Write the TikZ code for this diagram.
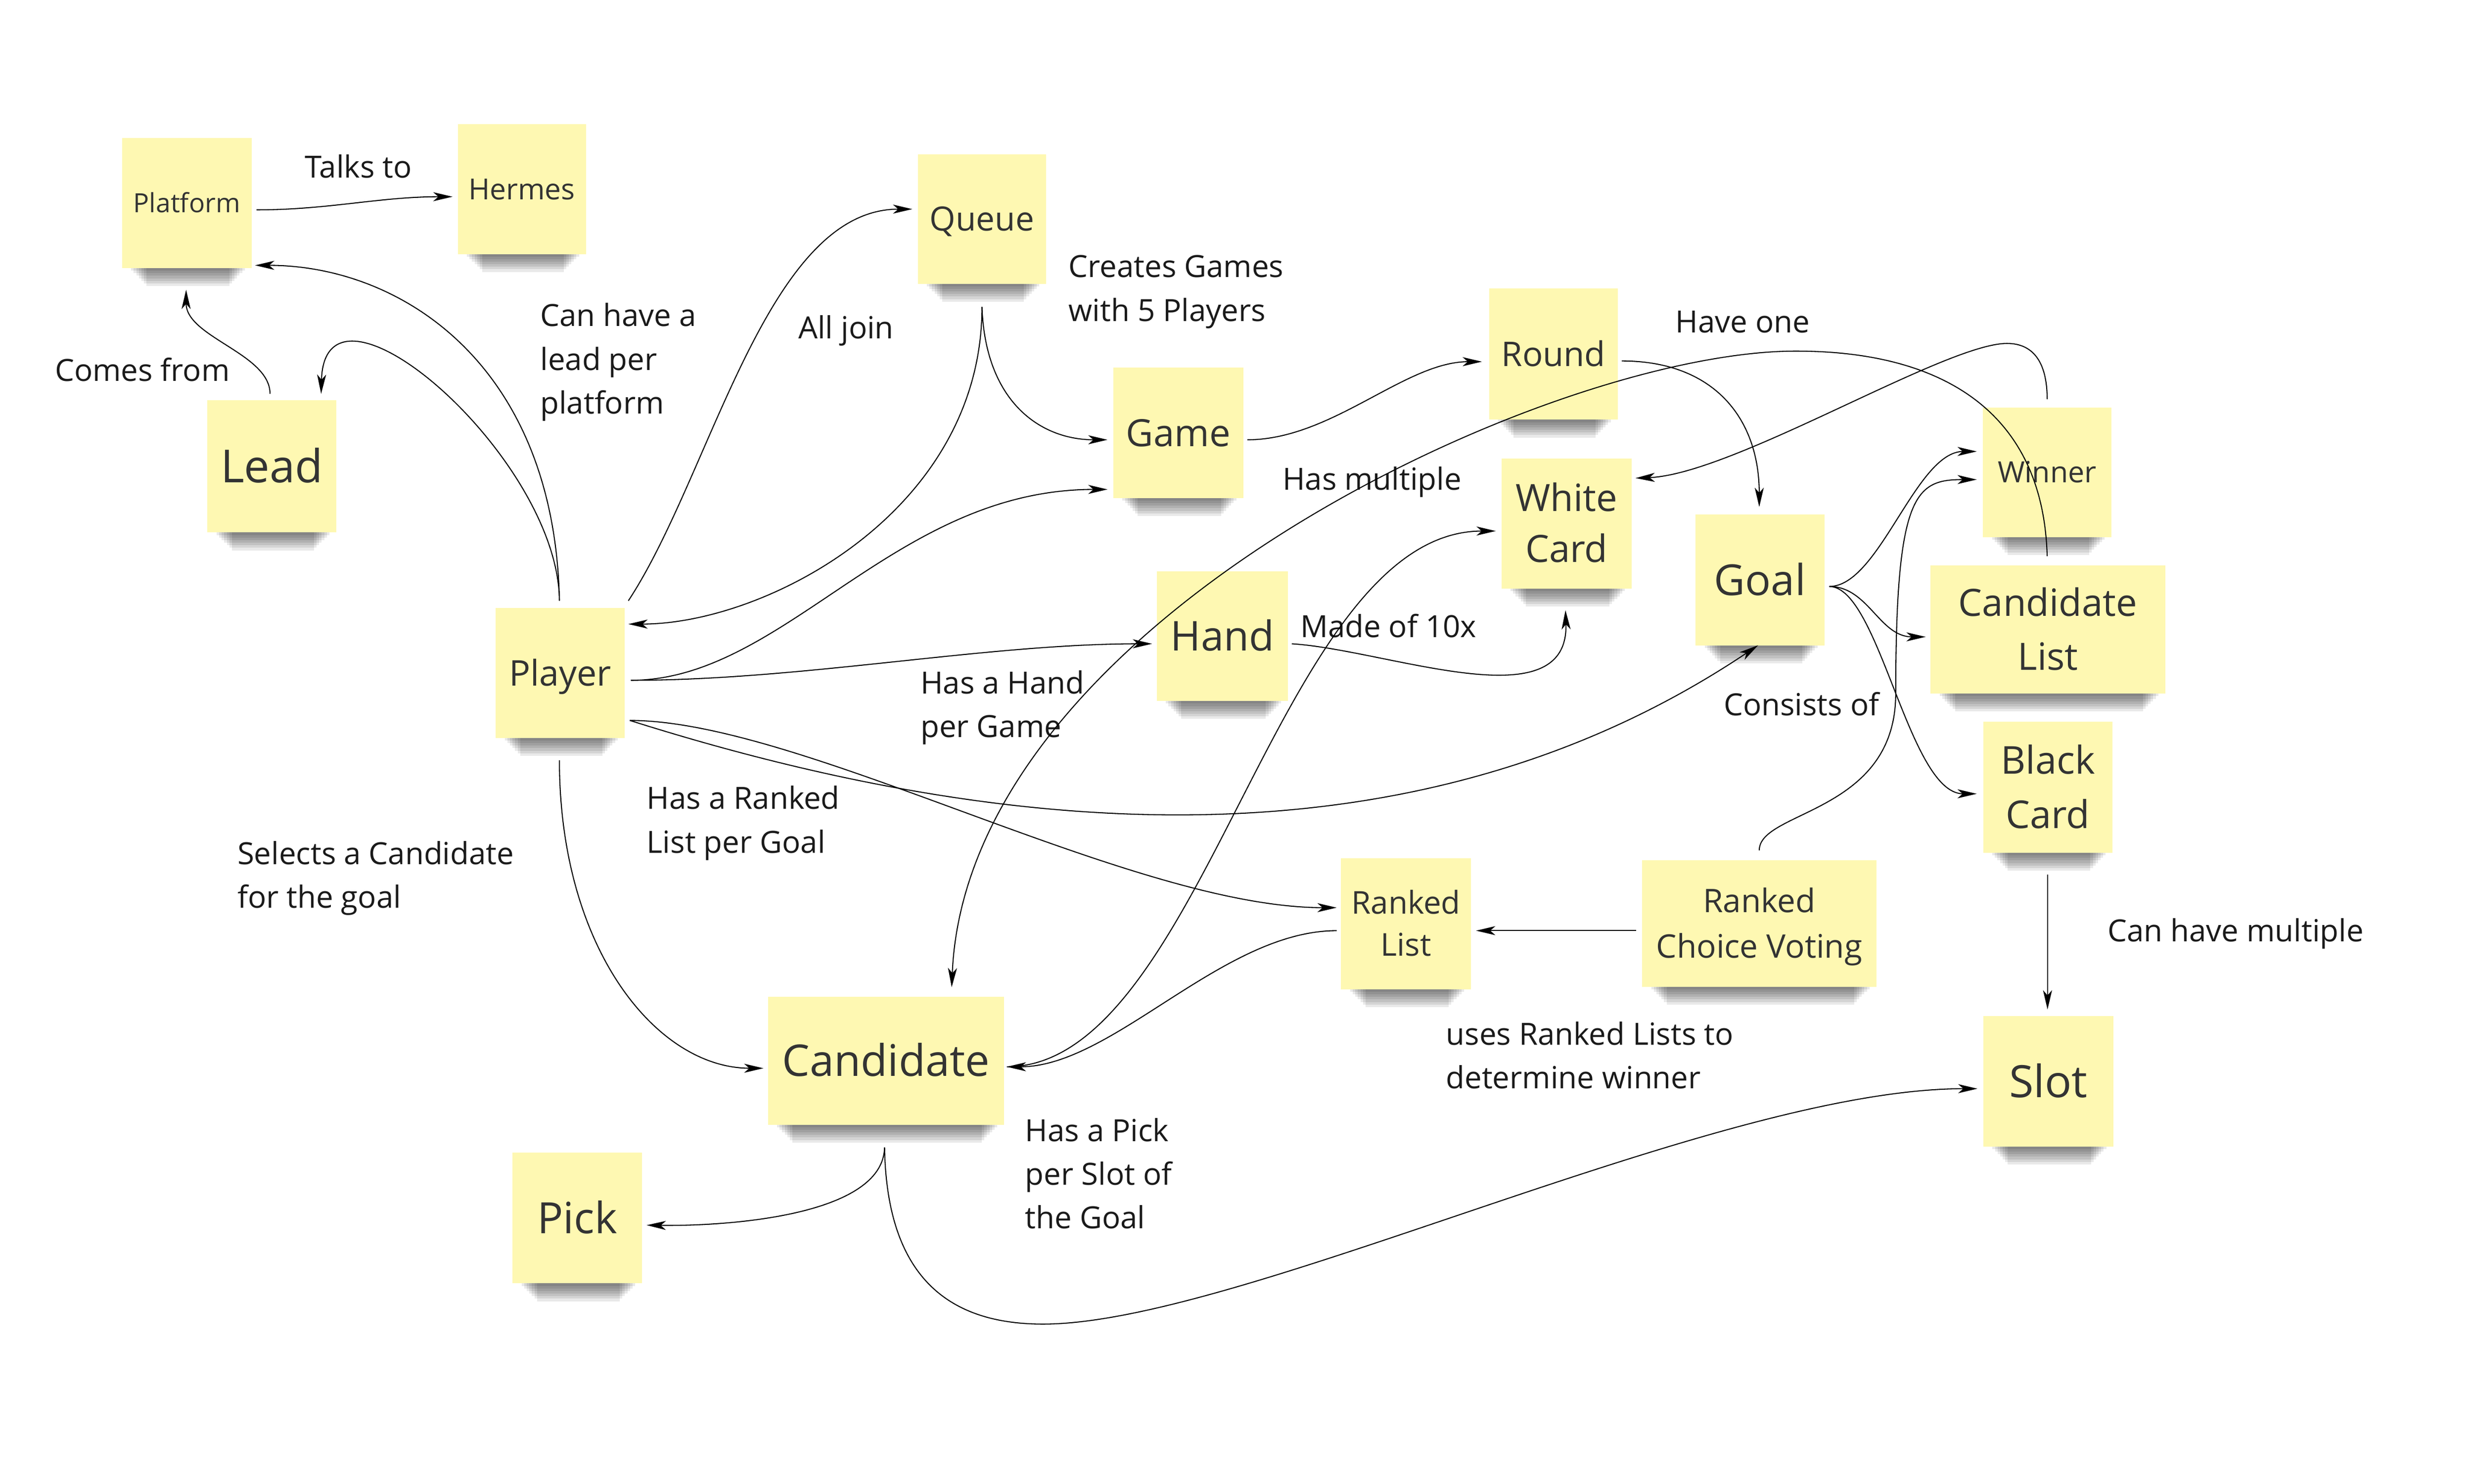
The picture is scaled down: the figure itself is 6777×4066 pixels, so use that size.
\documentclass[tikz,border=0pt]{standalone}
\usepackage{fontspec}
\setmainfont{Open Sans}
\usetikzlibrary{arrows.meta,calc}
\definecolor{notefill}{HTML}{FEF8B2}
\definecolor{notetext}{HTML}{333333}
\definecolor{labeltext}{HTML}{1A1A1A}
\newcommand{\topstrut}{\rule{0pt}{\dimexpr0.7\baselineskip+4.4pt\relax}}
% name, cx, cy, w, h, font size (pt), leading (pt), text, extra options
\newcommand{\stickynote}[9]{%
  \foreach \sk in {1,...,7}{%
    \fill[black, opacity=0.085] ({#2-#4/2+18+\sk*7},{#3+#5/2-4}) rectangle ({#2+#4/2-12-\sk*7},{#3+#5/2+\sk*7});
  }
  \node[sticky, minimum width=#4*0.01cm, minimum height=#5*0.01cm,
        font=\fontsize{#6}{#7}\selectfont, #9] (#1) at (#2,#3) {#8};
}
\tikzset{
  sticky/.style={fill=notefill, draw=none, inner sep=0pt, align=center, text=notetext},
  lbl/.style={anchor=west, inner sep=0pt, align=left, text=labeltext,
              font=\fontsize{23.8}{34}\selectfont},
  conn/.style={line width=0.8pt, draw=black,
               -{Stealth[length=15pt,width=7pt,inset=4pt]}}
}
\begin{document}
\begin{tikzpicture}[x=0.01cm, y=-0.01cm]
\useasboundingbox (0,0) rectangle (6777,4066);
\fill[white] (0,0) rectangle (6777,4066);

% sticky notes
\stickynote{platform}{512}{556}{355}{357}{20.6}{25}{Platform}{text height=14.7pt, text depth=0pt}
\stickynote{hermes}{1430}{518}{351}{356}{22.6}{27}{Hermes}{text height=16.1pt, text depth=0pt}
\stickynote{lead}{745}{1278}{353}{362}{35.5}{42}{Lead}{text height=25.3pt, text depth=0pt}
\stickynote{queue}{2691}{600}{352}{355}{26}{31}{Queue}{text height=18.6pt, text depth=0pt}
\stickynote{game}{3229}{1186}{356}{357}{29.3}{35}{Game}{text height=20.9pt, text depth=0pt}
\stickynote{round}{4257}{970}{352}{360}{26.5}{32}{Round}{text height=18.9pt, text depth=0pt}
\stickynote{white}{4293}{1435}{357}{356}{29.3}{39.8}{\topstrut White\\Card\strut}{}
\stickynote{hand}{3350}{1743}{360}{356}{32}{38}{Hand}{text height=22.8pt, text depth=0pt}
\stickynote{goal}{4823}{1589}{353}{359}{33.3}{40}{Goal}{text height=23.8pt, text depth=0pt}
\stickynote{winner}{5610}{1294}{352}{355}{22.8}{27}{Winner}{text height=16.3pt, text depth=0pt}
\stickynote{clist}{5612}{1725}{643}{351}{29.3}{41.8}{\topstrut Candidate\\List\strut}{}
\stickynote{black}{5612}{2157}{355}{359}{29.9}{42.4}{\topstrut Black\\Card\strut}{}
\stickynote{player}{1535}{1844}{353}{356}{27.6}{33}{Player}{text height=19.7pt, text depth=0pt}
\stickynote{cand}{2428}{2906}{647}{351}{34}{41}{Candidate}{text height=24.3pt, text depth=0pt}
\stickynote{rlist}{3853}{2531}{356}{359}{24.5}{32.7}{\topstrut Ranked\\List\strut}{}
\stickynote{rcv}{4821}{2530}{642}{347}{25.3}{35.3}{\topstrut Ranked\\Choice Voting\strut}{}
\stickynote{slot}{5613}{2963}{356}{357}{34.7}{42}{Slot}{text height=24.8pt, text depth=0pt}
\stickynote{pick}{1582}{3337}{355}{359}{33.6}{40}{Pick}{text height=24pt, text depth=0pt}

% labels
\node[lbl] (ltalks) at (835,463) {\strut Talks to\strut};
\node[lbl] (lcomes) at (150,1021) {\strut Comes from\strut};
\node[lbl] (lcanhave) at (1480,990) {\strut Can have a\\lead per\\platform\strut};
\node[lbl] (lalljoin) at (2187,904) {\strut All join\strut};
\node[lbl] (lcreates) at (2928,796) {\strut Creates Games\\with 5 Players\strut};
\node[lbl] (lhaveone) at (4591,888) {\strut Have one\strut};
\node[lbl] (lhasmult) at (3514,1319) {\strut Has multiple\strut};
\node[lbl] (lmadeof) at (3563,1722) {\strut Made of 10x\strut};
\node[lbl] (lhashand) at (2522,1937) {\strut Has a Hand\\per Game\strut};
\node[lbl] (lconsists) at (4723,1936) {\strut Consists of\strut};
\node[lbl] (lhasranked) at (1772,2253) {\strut Has a Ranked\\List per Goal\strut};
\node[lbl] (lselects) at (650,2404) {\strut Selects a Candidate\\for the goal\strut};
\node[lbl] (lcanmult) at (5775,2556) {\strut Can have multiple\strut};
\node[lbl] (luses) at (3962,2899) {\strut uses Ranked Lists to\\determine winner\strut};
\node[lbl] (lhaspick) at (2809,3223) {\strut Has a Pick\\per Slot of\\the Goal\strut};

% connectors
\draw[conn] ($(platform.center)+(191,19)$) .. controls (900,575) and (1040,539) .. ($(hermes.center)+(-190,21)$);
\draw[conn] ($(lead.center)+(-5,-199)$) .. controls (740,969) and (510,924) .. ($(platform.center)+(-2,238)$);
\draw[conn] ($(player.center)+(-2,-198)$) .. controls (1530,1250) and (890,700) .. ($(lead.center)+(135,-199)$);
\draw[conn] ($(player.center)+(-2,-198)$) .. controls (1520,1000) and (1100,727) .. ($(platform.center)+(187,171)$);
\draw[conn] ($(player.center)+(187,-198)$) .. controls (1950,1300) and (2100,573) .. ($(queue.center)+(-191,-27)$);
\draw[conn] ($(queue.center)+(0,241)$) .. controls (2691,1400) and (2100,1710) .. ($(player.center)+(187,-134)$);
\draw[conn] ($(queue.center)+(0,241)$) .. controls (2700,1100) and (2850,1205) .. ($(game.center)+(-194,19)$);
\draw[conn] ($(player.center)+(194,20)$) .. controls (2150,1864) and (2450,1341) .. ($(game.center)+(-194,155)$);
\draw[conn] ($(player.center)+(194,20)$) .. controls (2200,1864) and (2700,1764) .. ($(hand.center)+(-193,21)$);
\draw[conn] ($(player.center)+(191,130)$) .. controls (2600,2250) and (3800,2450) .. ($(goal.center)+(-5,179)$);
\draw[conn] ($(player.center)+(191,130)$) .. controls (2200,1974) and (3100,2487) .. ($(rlist.center)+(-190,-44)$);
\draw[conn] ($(rlist.center)+(-190,19)$) .. controls (3350,2550) and (3050,2923) .. ($(cand.center)+(331,17)$);
\draw[conn] ($(cand.center)+(331,17)$) .. controls (3300,2923) and (3500,1455) .. ($(white.center)+(-194,20)$);
\draw[conn] ($(hand.center)+(190,21)$) .. controls (3800,1780) and (4300,1980) .. ($(white.center)+(-3,237)$);
\draw[conn] ($(game.center)+(189,19)$) .. controls (3650,1205) and (3850,991) .. ($(round.center)+(-196,21)$);
\draw[conn] ($(round.center)+(187,19)$) .. controls (4700,989) and (4821,1150) .. ($(goal.center)+(-2,-200)$);
\draw[conn] ($(winner.center)+(0,-200)$) .. controls (5610,990) and (5570,941) .. (5500,941)
            .. controls (5330,941) and (4750,1300) .. ($(white.center)+(189,-125)$);
\draw[conn] ($(clist.center)+(-2,-201)$) .. controls (5600,1150) and (5350,962) .. (4921,962)
            .. controls (4250,962) and (2650,1700) .. ($(cand.center)+(180,-201)$);
\draw[conn] ($(goal.center)+(190,18)$) .. controls (5150,1607) and (5250,1237) .. ($(winner.center)+(-193,-57)$);
\draw[conn] ($(goal.center)+(190,18)$) .. controls (5120,1607) and (5150,1745) .. ($(clist.center)+(-335,20)$);
\draw[conn] ($(goal.center)+(190,18)$) .. controls (5150,1607) and (5230,2175) .. ($(black.center)+(-195,18)$);
\draw[conn] ($(rcv.center)+(0,-200)$) .. controls (4821,2220) and (5195,2230) .. (5195,1900)
            .. controls (5195,1350) and (5250,1314) .. ($(winner.center)+(-193,20)$);
\draw[conn] ($(black.center)+(-1,239)$) -- ($(slot.center)+(-2,-197)$);
\draw[conn] ($(rcv.center)+(-337,20)$) -- ($(rlist.center)+(192,19)$);
\draw[conn] ($(player.center)+(-2,239)$) .. controls (1533,2600) and (1800,2927) .. ($(cand.center)+(-336,21)$);
\draw[conn] ($(cand.center)+(-4,238)$) .. controls (2420,3330) and (2000,3360) .. ($(pick.center)+(190,20)$);
\draw[conn] ($(cand.center)+(-4,238)$) .. controls (2430,3500) and (2600,3628) .. (2858,3628)
            .. controls (3400,3628) and (4700,2983) .. ($(slot.center)+(-194,20)$);
\end{tikzpicture}
\end{document}
